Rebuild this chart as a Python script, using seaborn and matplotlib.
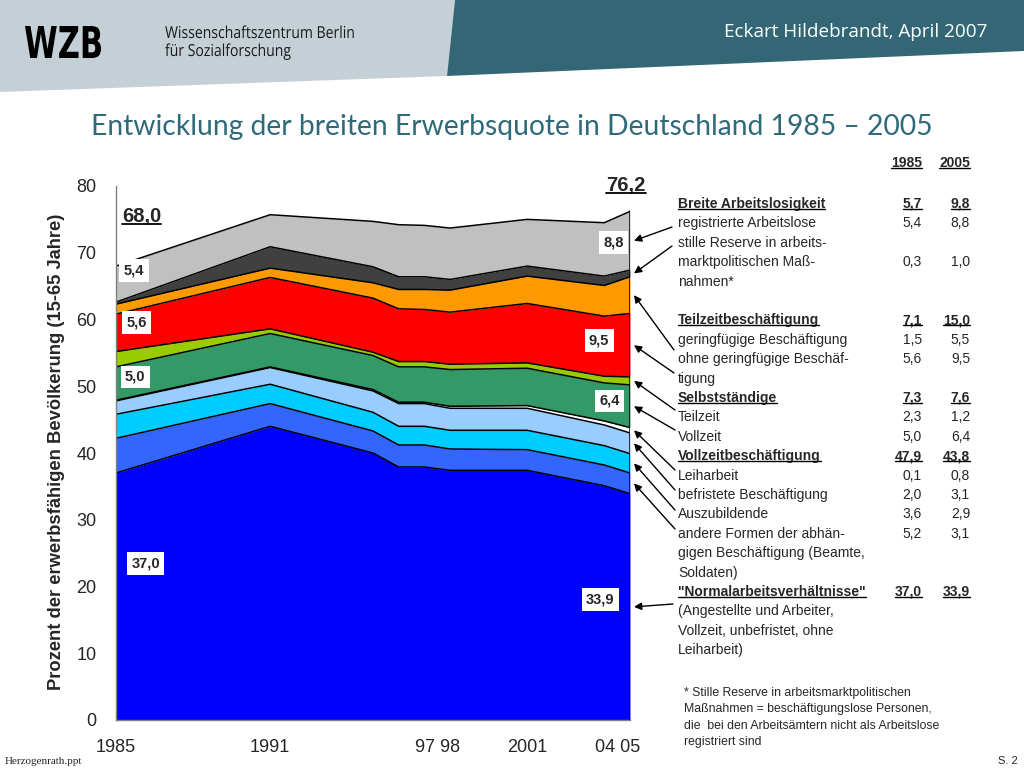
import numpy as np
import pandas as pd
import matplotlib
matplotlib.use("Agg")
import matplotlib.pyplot as plt
from matplotlib.patches import Polygon, PathPatch
from matplotlib.textpath import TextPath
from matplotlib.font_manager import FontProperties
from matplotlib.lines import Line2D
from matplotlib.transforms import Affine2D
import seaborn as sns

# Daten (Anteil an der erwerbsfähigen Bevölkerung, in %)
jahre = [1985, 1991, 1995, 1996, 1997, 1998, 2001, 2004, 2005]
normal = [37.0, 44.0, 40.0, 37.9, 37.9, 37.4, 37.4, 35.1, 33.9]
andere = [5.2, 3.4, 3.3, 3.3, 3.3, 3.2, 3.1, 3.1, 3.1]
azubi = [3.6, 2.9, 2.8, 2.8, 2.8, 2.8, 2.9, 2.9, 2.9]
befristet = [2.0, 2.5, 3.2, 3.4, 3.4, 3.3, 3.3, 3.1, 3.1]
leiharbeit = [0.1, 0.1, 0.2, 0.2, 0.2, 0.3, 0.4, 0.6, 0.8]
selbst_voll = [5.0, 5.0, 5.1, 5.3, 5.3, 5.5, 5.6, 5.7, 6.4]
selbst_teil = [2.3, 0.7, 0.5, 0.8, 0.8, 0.8, 0.8, 1.0, 1.2]
teilzeit_ohne = [5.6, 7.7, 8.1, 7.9, 7.8, 7.8, 8.9, 9.0, 9.5]
geringfuegig = [1.5, 1.4, 2.3, 2.9, 3.0, 3.3, 4.1, 4.6, 5.5]
stille_reserve = [0.3, 3.2, 2.4, 1.9, 1.9, 1.6, 1.5, 1.4, 1.0]
arbeitslose = [5.4, 4.8, 6.8, 7.8, 7.7, 7.7, 7.0, 8.0, 8.8]

schichten = [normal, andere, azubi, befristet, leiharbeit, selbst_voll,
             selbst_teil, teilzeit_ohne, geringfuegig, stille_reserve, arbeitslose]
farben = ["#0000FF", "#3366FF", "#00CCFF", "#99CCFF", "#FFFFFF", "#339966",
          "#99CC00", "#FF0000", "#FF9900", "#404040", "#C0C0C0"]

# Tabelle rechts
tabelle = [
    ("Breite Arbeitslosigkeit", "5,7", "9,8", True),
    ("registrierte Arbeitslose", "5,4", "8,8", False),
    ("stille Reserve in arbeits-", "", "", False),
    ("marktpolitischen Maß-", "0,3", "1,0", False),
    ("nahmen*", "", "", False),
    ("", "", "", False),
    ("Teilzeitbeschäftigung", "7,1", "15,0", True),
    ("geringfügige Beschäftigung", "1,5", "5,5", False),
    ("ohne geringfügige Beschäf-", "5,6", "9,5", False),
    ("tigung", "", "", False),
    ("Selbstständige", "7,3", "7,6", True),
    ("Teilzeit", "2,3", "1,2", False),
    ("Vollzeit", "5,0", "6,4", False),
    ("Vollzeitbeschäftigung", "47,9", "43,8", True),
    ("Leiharbeit", "0,1", "0,8", False),
    ("befristete Beschäftigung", "2,0", "3,1", False),
    ("Auszubildende", "3,6", "2,9", False),
    ("andere Formen der abhän-", "5,2", "3,1", False),
    ("gigen Beschäftigung (Beamte,", "", "", False),
    ("Soldaten)", "", "", False),
    ('"Normalarbeitsverhältnisse"', "37,0", "33,9", True),
    ("(Angestellte und Arbeiter,", "", "", False),
    ("Vollzeit, unbefristet, ohne", "", "", False),
    ("Leiharbeit)", "", "", False),
]
fussnote = ["* Stille Reserve in arbeitsmarktpolitischen",
            "Maßnahmen = beschäftigungslose Personen,",
            "die  bei den Arbeitsämtern nicht als Arbeitslose",
            "registriert sind"]

# Pfeile: Schicht-Index -> Startpunkt am Tabellentext (Pixel, von oben)
pfeil_start = {10: (672, 227), 9: (672, 246), 8: (674, 350), 7: (674, 373),
               6: (675, 410), 5: (675, 430), 4: (675, 470), 3: (675, 490),
               2: (675, 510), 1: (675, 529), 0: (673, 604)}

# Werte-Kästchen im Diagramm
kaestchen = [("5,4", 1985.7, 67.3), ("5,6", 1985.8, 59.5), ("5,0", 1985.75, 51.4),
             ("37,0", 1986.15, 23.5), ("8,8", 2004.35, 71.5), ("9,5", 2003.8, 56.9),
             ("6,4", 2004.2, 47.8), ("33,9", 2003.85, 18.0)]

sns.set_style("white")
plt.rcParams["font.family"] = ["Liberation Sans", "DejaVu Sans"]

W, H = 1024, 768
fig = plt.figure(figsize=(W / 100, H / 100), dpi=100)


def fx(x):
    return x / W


def fy(y):
    return 1 - y / H


def pfad_text(s, x, basis, groesse, sx, family, weight="normal", farbe="black"):
    # schmal gesetzter Text als Pfad (Pixelkoordinaten, y von oben)
    tp = TextPath((0, 0), s, size=groesse, prop=FontProperties(family=family, weight=weight))
    tr = Affine2D().scale(sx, 1).translate(x, H - basis)
    fig.patches.append(PathPatch(tr.transform_path(tp), facecolor=farbe, edgecolor="none",
                                 transform=None))


# Kopfbereich
fig.patches.append(Polygon([(fx(0), fy(0)), (fx(455), fy(0)), (fx(447), fy(76)), (fx(0), fy(92))],
                           closed=True, transform=fig.transFigure, facecolor="#C5D0D6", edgecolor="none"))
fig.patches.append(Polygon([(fx(455), fy(0)), (fx(1024), fy(0)), (fx(1024), fy(51)), (fx(447), fy(76))],
                           closed=True, transform=fig.transFigure, facecolor="#346775", edgecolor="none"))

# WZB-Logo als Pfad in eine Box eingepasst
tp = TextPath((0, 0), "WZB", size=1, prop=FontProperties(family="DejaVu Sans", weight="bold"))
ext = tp.get_extents()
bx0, bx1, by0, by1 = 25, 101, 26, 58
trans = (Affine2D().translate(-ext.x0, -ext.y0)
         .scale((bx1 - bx0) / ext.width, (by1 - by0) / ext.height)
         .translate(bx0, H - by1))
fig.patches.append(PathPatch(trans.transform_path(tp), facecolor="black", edgecolor="none",
                             transform=None))

pfad_text("Wissenschaftszentrum Berlin", 165, 38, 16.5, 0.85, "Open Sans", farbe="#1a1a1a")
pfad_text("für Sozialforschung", 165, 56, 16.5, 0.85, "Open Sans", farbe="#1a1a1a")
fig.text(fx(987), fy(32), "Eckart Hildebrandt, April 2007", family="Open Sans", fontsize=13.6,
         va="center", ha="right", color="white")

fig.text(fx(512), fy(127), "Entwicklung der breiten Erwerbsquote in Deutschland 1985 – 2005",
         family="Lato", fontsize=20.3, color="#2E6A7A", ha="center", va="center")

# Diagramm
ax = fig.add_axes([fx(116), 48 / H, 514 / W, 534 / H])
ax.stackplot(jahre, *schichten, colors=farben, lw=0)

oben = np.cumsum(np.array(schichten), axis=0)
lang = pd.DataFrame({
    "Jahr": np.tile(jahre, len(schichten)),
    "Schicht": np.repeat(np.arange(len(schichten)), len(jahre)),
    "oben": oben.ravel(),
})
sns.lineplot(data=lang, x="Jahr", y="oben", units="Schicht", estimator=None,
             color="black", lw=1.1, ax=ax, legend=False)
ax.plot([jahre[-1], jahre[-1]], [0, oben[-1, -1]], color="black", lw=1.1)

ax.set_xlim(1985, 2005)
ax.set_ylim(0, 80)
ax.set_xticks([1985, 1991, 1997.5, 2001, 2004.5])
ax.set_xticklabels(["1985", "1991", "97 98", "2001", "04 05"])
ax.set_xticks(range(1985, 2006), minor=True)
ax.set_yticks(range(0, 81, 10))
ax.tick_params(axis="x", which="major", length=0, pad=14, labelsize=13)
ax.tick_params(axis="x", which="minor", length=5, width=1, color="#808080", direction="out")
ax.tick_params(axis="y", length=5, width=1, color="#808080", direction="out", pad=9, labelsize=13)
ax.set_xlabel("")
ax.set_ylabel("")
sns.despine(ax=ax)
for s in ["left", "bottom"]:
    ax.spines[s].set_color("#808080")
    ax.spines[s].set_linewidth(1)

fig.text(fx(57), fy(452), "Prozent der erwerbsfähigen Bevölkerung (15-65 Jahre)",
         rotation=90, fontsize=13.2, fontweight="bold", ha="center", va="center")

for txt, x, y in kaestchen:
    ax.text(x, y, txt, fontsize=10.5, fontweight="bold", ha="center", va="center",
            bbox=dict(boxstyle="square,pad=0.3", facecolor="white", edgecolor="none"))

unterstrichen = []
unterstrichen.append(ax.text(1986.0, 75.4, "68,0", fontsize=14.5, fontweight="bold",
                             ha="center", va="center"))
unterstrichen.append(ax.text(2004.85, 80.0, "76,2", fontsize=14.5, fontweight="bold",
                             ha="center", va="center", clip_on=False))

# Pfeile von der Tabelle zur Schichtmitte im Jahr 2005
for i, (tx, ty) in pfeil_start.items():
    mitte = oben[i, -1] - schichten[i][-1] / 2
    hx, hy = ax.transData.transform((jahre[-1], mitte))
    ax.annotate("", xy=(hx + 4, hy), xycoords="figure pixels",
                xytext=(tx, H - ty), textcoords="figure pixels",
                arrowprops=dict(arrowstyle="-|>", color="black", lw=1,
                                shrinkA=0, shrinkB=0, mutation_scale=11),
                annotation_clip=False)

# Tabelle
unterstrichen.append(fig.text(fx(922), fy(163), "1985", fontsize=10, fontweight="bold",
                              ha="right", va="center"))
unterstrichen.append(fig.text(fx(970), fy(163), "2005", fontsize=10, fontweight="bold",
                              ha="right", va="center"))
for k, (label, v1, v2, fett) in enumerate(tabelle):
    y = 204 + k * 19.4
    gew = "bold" if fett else "normal"
    for x, s, ha in [(678, label, "left"), (922, v1, "right"), (970, v2, "right")]:
        if not s:
            continue
        t = fig.text(fx(x), fy(y), s, fontsize=10, fontweight=gew, ha=ha, va="center")
        if fett:
            unterstrichen.append(t)

for k, zeile in enumerate(fussnote):
    fig.text(fx(684), fy(693 + k * 16.3), zeile, fontsize=8.8, ha="left", va="center")

fig.text(fx(5), fy(761), "Herzogenrath.ppt", family="Liberation Serif", fontsize=8,
         ha="left", va="center")
fig.text(fx(1018), fy(761), "S. 2", fontsize=8, ha="right", va="center")

# Unterstreichungen
fig.canvas.draw()
r = fig.canvas.get_renderer()
for t in unterstrichen:
    bb = t.get_window_extent(r)
    yl = bb.y0 + 0.14 * bb.height
    fig.add_artist(Line2D([bb.x0 / W, bb.x1 / W], [yl / H, yl / H], transform=fig.transFigure,
                          color="black", lw=1.3 if t.get_fontsize() > 12 else 1.0, zorder=10))

fig.savefig("out.png", dpi=100)
